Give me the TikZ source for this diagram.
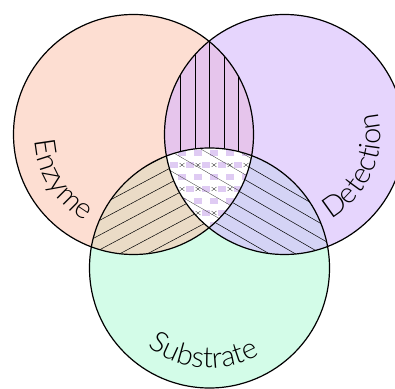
\documentclass[tikz,border=0pt]{standalone}
\usepackage{fontspec}
\setmainfont{Liberation Sans}
\newfontfamily\lightsans{Lato Light}
\usetikzlibrary{calc,decorations.text}

% set colours
\definecolor{enzfill}{HTML}{FDDED2}
\definecolor{detfill}{HTML}{E6D5FD}
\definecolor{subfill}{HTML}{D3FCE8}
\definecolor{edfill}{HTML}{E6C5EC}
\definecolor{esfill}{HTML}{EADBC6}
\definecolor{dsfill}{HTML}{D4D3F5}
\definecolor{midpatch}{HTML}{DFCBF3}

\newcommand{\labelfont}{\lightsans\fontsize{29pt}{29pt}\selectfont}

\tikzset{
  outline/.style={draw=black, line width=1.2pt},
  hatch/.style={draw=black, line width=0.5pt},
  fine/.style={draw=black!80, line width=0.3pt},
  arclabel/.style={decorate, decoration={text along path, text align=center, text={#1}}},
}

\begin{document}
\begin{tikzpicture}[x=1pt,y=1pt]
\useasboundingbox (0,0) rectangle (395,388);
\clip (0,0) rectangle (395,388);
\fill[white] (0,0) rectangle (395,388);

\coordinate (E) at (133.5,253.5);
\coordinate (D) at (284.5,253.5);
\coordinate (S) at (209.5,120);

% the three sets
\fill[enzfill] (E) circle[radius=120pt];
\fill[detfill] (D) circle[radius=120pt];
\fill[subfill] (S) circle[radius=120pt];

% Enzyme and Detection: vertical hatching
\begin{scope}
  \clip (E) circle[radius=120pt];
  \fill[edfill] (D) circle[radius=120pt];
  \clip (D) circle[radius=120pt];
  \foreach \x in {180.5,195,209.5,224,238.5}
    \draw[hatch] (\x,100) -- (\x,388);
\end{scope}

% Enzyme and Substrate: rising hatching
\begin{scope}
  \clip (E) circle[radius=120pt];
  \fill[esfill] (S) circle[radius=120pt];
  \clip (S) circle[radius=120pt];
  \begin{scope}[shift={(150,165)}, rotate=28]
    \foreach \k in {-8,...,8}
      \draw[hatch] (-120,\k*13) -- (120,\k*13);
  \end{scope}
\end{scope}

% Detection and Substrate: falling hatching
\begin{scope}
  \clip (D) circle[radius=120pt];
  \fill[dsfill] (S) circle[radius=120pt];
  \clip (S) circle[radius=120pt];
  \begin{scope}[shift={(268,165)}, rotate=-30]
    \foreach \k in {-8,...,8}
      \draw[hatch] (-120,\k*13) -- (120,\k*13);
  \end{scope}
\end{scope}

% all three: white with a patched cross pattern
\begin{scope}
  \clip (E) circle[radius=120pt];
  \clip (D) circle[radius=120pt];
  \clip (S) circle[radius=120pt];
  \fill[white] (150,140) rectangle (270,250);
  \foreach \j in {0,...,7} {
    \foreach \i in {0,...,6} {
      \pgfmathsetmacro{\px}{162+16*\i+8*mod(\j,2)}
      \pgfmathsetmacro{\py}{238-12*\j}
      \fill[midpatch] (\px,\py) rectangle ++(8,-6);
    }
  }
  \begin{scope}[shift={(209,195)}, rotate=-30]
    \foreach \k in {-4,...,4}
      \draw[fine] (-70,\k*17) -- (70,\k*17);
  \end{scope}
  \foreach \j in {0,2,4,6} {
    \foreach \i in {0,...,5} {
      \pgfmathsetmacro{\px}{166+16*\i}
      \pgfmathsetmacro{\py}{223-12*\j}
      \draw[fine] (\px-2.5,\py-2) -- (\px+2.5,\py+2)
                  (\px-2.5,\py+2) -- (\px+2.5,\py-2);
    }
  }
\end{scope}

% outlines
\draw[outline] (E) circle[radius=120pt];
\draw[outline] (D) circle[radius=120pt];
\draw[outline] (S) circle[radius=120pt];

% curved labels
\path[arclabel={|\labelfont|Enzyme}]
  ($(E)+(152:99)$) arc[start angle=152, end angle=272, radius=99pt];
\path[arclabel={|\labelfont|Detection}]
  ($(D)+(-84:96)$) arc[start angle=-84, end angle=36, radius=96pt];
\path[arclabel={|\labelfont|Substrate}]
  ($(S)+(206:100)$) arc[start angle=206, end angle=326, radius=100pt];
\end{tikzpicture}
\end{document}
